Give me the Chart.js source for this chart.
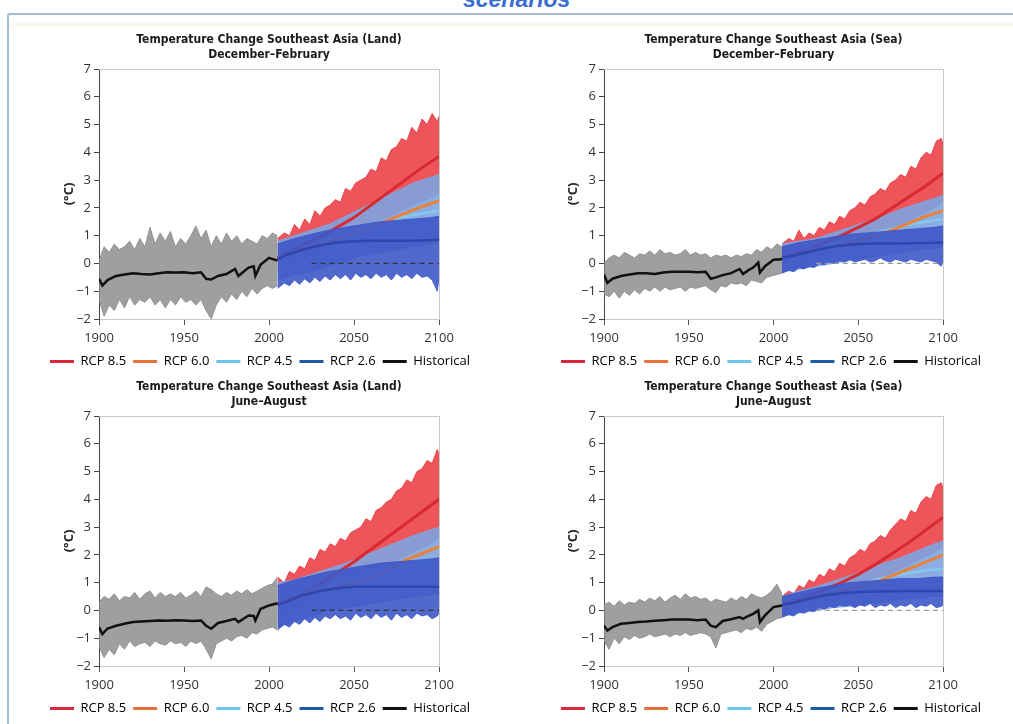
<!DOCTYPE html>
<html>
<head>
<meta charset="utf-8">
<script src="https://cdn.jsdelivr.net/npm/chart.js@4.4.1/dist/chart.umd.min.js"></script>
<style>
  html, body { margin: 0; padding: 0; background: #fff; width: 1013px; height: 724px; overflow: hidden; position: relative; }
  .frame { position: absolute; left: 7px; top: 13px; width: 1100px; height: 800px; border: 2px solid #a3bdd6; border-radius: 3px; box-sizing: border-box; }
  .stripe { position: absolute; left: 9px; right: 0; top: 23px; height: 4px; background: #fdf8ec; }
  .heading { position: absolute; left: 463px; top: -12px; font: italic bold 23px 'Liberation Sans', Arial, sans-serif; color: #3a6ed0; line-height: 22px; }
  .panel { position: absolute; width: 470px; height: 349px; }
</style>
</head>
<body>
<div class="heading">scenarios</div>
<div class="frame"></div>
<div class="stripe"></div>
<div class="panel" style="left:25px;top:29px"><canvas id="tl" width="470" height="349"></canvas></div>
<div class="panel" style="left:536px;top:29px"><canvas id="tr" width="470" height="349"></canvas></div>
<div class="panel" style="left:25px;top:376px"><canvas id="bl" width="470" height="349"></canvas></div>
<div class="panel" style="left:536px;top:376px"><canvas id="br" width="470" height="349"></canvas></div>

<script>
// =========================
// Shared x values
// =========================
const histYears = [1900,1903,1906,1909,1912,1915,1918,1921,1924,1927,
  1930,1933,1936,1939,1942,1945,1948,1951,1954,1957,
  1960,1963,1966,1969,1972,1975,1978,1981,1984,1987,
  1990,1993,1996,1999,2002,2005];
const histMeanYears = [1900,1902,1905,1910,1915,1920,1925,1930,1935,1940,
  1945,1950,1955,1960,1963,1966,1970,1975,1980,1982,
  1985,1988,1991,1992,1995,2000,2005];
const futYears = [2005,2009,2012,2015,2018,2021,2024,2027,2030,2033,
  2036,2039,2042,2045,2048,2051,2054,2057,2060,2063,
  2066,2069,2072,2075,2078,2081,2084,2087,2090,2093,
  2096,2099,2100];
const bandYears = [2005,2015,2025,2035,2045,2055,2065,2075,2085,2095,2100];
const meanYears = [2005,2010,2020,2030,2040,2050,2060,2070,2080,2090,2100];
const zeroYears = [2025, 2100];
const zeroValues = [0, 0];

const xTicks = [1900, 1950, 2000, 2050, 2100];
const legendNames = ["RCP 8.5", "RCP 6.0", "RCP 4.5", "RCP 2.6", "Historical"];
const legendColors = ["#d7263d", "#e8733a", "#6ec6ea", "#1f5aa6", "#111111"];

// =========================
// Land, December-February
// =========================
const tlHistHi = [0.1,0.6,0.4,0.7,0.5,0.6,0.8,0.5,0.9,0.6, 1.3,0.7,1.1,0.8,1.15,0.6,0.9,0.7,1.0,1.35, 0.9,1.2,0.6,1.0,0.7,1.1,0.8,1.0,0.7,0.9, 0.8,0.7,1.0,0.9,1.1,1.0];
const tlHistLo = [-1.3,-1.9,-1.5,-1.7,-1.3,-1.6,-1.2,-1.5,-1.3,-1.4, -1.2,-1.5,-1.3,-1.6,-1.3,-1.5,-1.2,-1.4,-1.3,-1.5, -1.3,-1.7,-2.0,-1.5,-1.2,-1.4,-1.1,-1.3,-1.0,-1.2, -0.9,-1.1,-0.9,-0.8,-0.9,-0.8];
const tlHistMean = [-0.55,-0.8,-0.6,-0.45,-0.4,-0.35,-0.38,-0.4,-0.35,-0.32, -0.33,-0.32,-0.35,-0.32,-0.55,-0.58,-0.45,-0.38,-0.2,-0.45, -0.3,-0.15,-0.1,-0.45,-0.05,0.2,0.1];
const tlR85Hi = [0.9,1.1,1.0,1.4,1.2,1.6,1.4,1.9,1.7,2.0, 2.1,2.3,2.2,2.7,2.6,2.9,3.0,3.1,3.4,3.3, 3.8,3.7,4.1,4.2,4.5,4.4,4.9,4.7,5.2,5.0, 5.4,5.1,5.3];
const tlR85Lo = [-0.3,0.0,0.3,0.6,0.9,1.2,1.5,1.8,2.1,2.35,2.5];
const tlLbHi = [0.8,1.0,1.2,1.4,1.7,2.0,2.3,2.6,2.9,3.1,3.2];
const tlLbLo = [-0.6,-0.4,-0.3,-0.1,0.1,0.3,0.4,0.5,0.6,0.7,0.8];
const tlBHi = [0.7,0.9,1.05,1.2,1.3,1.4,1.5,1.55,1.6,1.65,1.7];
const tlBLo = [-0.9,-0.7,-0.8,-0.6,-0.75,-0.55,-0.7,-0.5,-0.65,-0.45, -0.6,-0.4,-0.55,-0.4,-0.6,-0.35,-0.5,-0.4,-0.55,-0.35, -0.5,-0.4,-0.6,-0.35,-0.5,-0.4,-0.55,-0.35,-0.5,-0.45, -0.6,-1.0,-0.5];
const tlR85 = [0.2,0.35,0.65,0.95,1.3,1.65,2.1,2.55,3.0,3.45,3.85];
const tlR60 = [0.15,0.3,0.5,0.7,0.9,1.1,1.3,1.55,1.8,2.05,2.25];
const tlR45 = [0.15,0.3,0.55,0.8,1.0,1.2,1.4,1.55,1.7,1.8,1.9];
const tlR26 = [0.15,0.3,0.5,0.65,0.75,0.8,0.82,0.82,0.82,0.83,0.85];

// =========================
// Sea, December-February
// =========================
const trHistHi = [0.0,0.2,0.3,0.2,0.4,0.3,0.2,0.35,0.3,0.45, 0.3,0.5,0.35,0.4,0.3,0.35,0.5,0.3,0.4,0.3, 0.35,0.2,0.3,0.25,0.3,0.2,0.3,0.25,0.35,0.3, 0.5,0.4,0.6,0.5,0.7,0.6];
const trHistLo = [-1.1,-1.2,-1.0,-1.25,-1.0,-1.15,-0.95,-1.1,-0.9,-1.0, -0.85,-1.0,-0.85,-0.95,-0.9,-0.85,-1.0,-0.85,-0.9,-0.85, -0.8,-0.95,-1.05,-0.8,-0.85,-0.7,-0.75,-0.7,-0.8,-0.6, -0.65,-0.7,-0.5,-0.45,-0.4,-0.35];
const trHistMean = [-0.4,-0.7,-0.55,-0.45,-0.4,-0.35,-0.35,-0.38,-0.33,-0.3, -0.3,-0.3,-0.32,-0.3,-0.55,-0.5,-0.42,-0.35,-0.2,-0.38, -0.25,-0.15,0.03,-0.33,-0.1,0.13,0.15];
const trR85Hi = [0.7,0.9,0.8,1.2,0.9,1.1,1.0,1.3,1.2,1.5, 1.4,1.7,1.6,1.9,2.0,2.2,2.1,2.4,2.5,2.7, 2.6,2.9,3.0,3.2,3.1,3.5,3.4,3.8,4.0,3.9, 4.4,4.5,4.3];
const trR85Lo = [-0.3,-0.1,0.1,0.35,0.6,0.85,1.1,1.4,1.7,2.0,2.2];
const trLbHi = [0.7,0.8,0.9,1.1,1.3,1.5,1.7,1.95,2.15,2.35,2.45];
const trLbLo = [-0.3,-0.2,-0.1,0.0,0.1,0.2,0.3,0.4,0.5,0.55,0.6];
const trBHi = [0.6,0.75,0.85,0.95,1.05,1.1,1.15,1.2,1.25,1.3,1.35];
const trBLo = [-0.35,-0.25,-0.3,-0.15,-0.2,-0.1,-0.15,0.0,-0.05,0.05, 0.0,0.1,0.05,0.15,0.05,0.1,0.15,0.05,0.1,0.2, 0.1,0.05,0.15,0.1,0.05,0.15,0.1,0.05,0.15,0.1, 0.05,-0.1,0.1];
const trR85 = [0.2,0.3,0.5,0.75,1.0,1.3,1.6,2.0,2.4,2.8,3.25];
const trR60 = [0.2,0.25,0.4,0.55,0.7,0.85,1.0,1.2,1.45,1.7,1.9];
const trR45 = [0.2,0.25,0.4,0.6,0.8,0.95,1.1,1.25,1.4,1.5,1.6];
const trR26 = [0.2,0.25,0.4,0.55,0.65,0.7,0.72,0.72,0.73,0.74,0.75];

// =========================
// Land, June-August
// =========================
const blHistHi = [0.3,0.5,0.4,0.6,0.35,0.5,0.45,0.65,0.4,0.6, 0.7,0.45,0.65,0.5,0.6,0.5,0.65,0.45,0.55,0.7, 0.5,0.85,0.75,0.6,0.5,0.65,0.55,0.7,0.6,0.75, 0.6,0.7,0.8,0.9,0.95,1.2];
const blHistLo = [-1.3,-1.7,-1.4,-1.6,-1.2,-1.4,-1.1,-1.3,-1.2,-1.15, -1.3,-1.1,-1.2,-1.25,-1.1,-1.2,-1.15,-1.3,-1.1,-1.2, -1.1,-1.4,-1.75,-1.2,-1.1,-1.0,-1.1,-0.95,-0.9,-1.0, -0.8,-0.85,-0.7,-0.65,-0.6,-0.7];
const blHistMean = [-0.6,-0.85,-0.65,-0.55,-0.48,-0.42,-0.4,-0.38,-0.36,-0.37, -0.35,-0.36,-0.38,-0.36,-0.55,-0.66,-0.45,-0.38,-0.3,-0.42, -0.3,-0.18,-0.2,-0.36,0.05,0.18,0.26];
const blR85Hi = [1.2,1.0,1.4,1.3,1.6,1.5,1.9,1.8,2.2,2.1, 2.4,2.3,2.6,2.5,2.8,2.9,3.0,3.3,3.2,3.6, 3.7,3.9,4.0,4.3,4.4,4.7,4.6,5.0,5.1,5.4, 5.3,5.8,5.6];
const blR85Lo = [-0.4,0.0,0.3,0.6,0.9,1.2,1.5,1.8,2.1,2.4,2.6];
const blLbHi = [1.0,1.1,1.3,1.5,1.7,1.95,2.2,2.45,2.7,2.9,3.0];
const blLbLo = [-0.6,-0.4,-0.2,0.0,0.1,0.2,0.3,0.4,0.5,0.55,0.6];
const blBHi = [0.9,1.1,1.25,1.4,1.5,1.6,1.7,1.75,1.8,1.85,1.9];
const blBLo = [-0.7,-0.5,-0.6,-0.4,-0.5,-0.3,-0.45,-0.25,-0.4,-0.2, -0.3,-0.15,-0.3,-0.2,-0.35,-0.1,-0.25,-0.15,-0.3,-0.1, -0.25,-0.15,-0.35,-0.1,-0.25,-0.15,-0.3,-0.1,-0.2,-0.15, -0.3,-0.2,-0.1];
const blR85 = [0.25,0.35,0.6,0.95,1.35,1.75,2.2,2.65,3.1,3.55,4.0];
const blR60 = [0.2,0.3,0.5,0.7,0.85,1.0,1.15,1.45,1.8,2.05,2.3];
const blR45 = [0.2,0.3,0.55,0.75,0.95,1.15,1.3,1.45,1.6,1.7,1.75];
const blR26 = [0.2,0.3,0.55,0.7,0.8,0.85,0.85,0.85,0.85,0.85,0.85];

// =========================
// Sea, June-August
// =========================
const brHistHi = [0.2,0.3,0.15,0.35,0.2,0.3,0.25,0.4,0.3,0.45, 0.35,0.5,0.3,0.45,0.55,0.4,0.6,0.45,0.5,0.4, 0.45,0.3,0.4,0.35,0.3,0.45,0.35,0.5,0.4,0.6, 0.5,0.45,0.55,0.7,0.95,0.6];
const brHistLo = [-1.1,-1.4,-1.0,-1.2,-0.95,-1.05,-0.9,-1.0,-0.95,-0.85, -0.95,-0.9,-0.85,-0.95,-0.85,-0.9,-0.8,-0.9,-0.85,-0.8, -0.85,-0.95,-1.35,-0.85,-0.8,-0.75,-0.7,-0.8,-0.65,-0.7, -0.6,-0.75,-0.5,-0.4,-0.3,-0.25];
const brHistMean = [-0.55,-0.72,-0.6,-0.48,-0.45,-0.42,-0.4,-0.37,-0.35,-0.33, -0.33,-0.33,-0.35,-0.33,-0.55,-0.6,-0.38,-0.32,-0.24,-0.3, -0.2,-0.12,0.0,-0.42,-0.18,0.12,0.18];
const brR85Hi = [0.5,0.7,0.6,0.9,0.8,1.1,1.0,1.3,1.2,1.5, 1.4,1.7,1.6,1.9,2.0,2.2,2.1,2.4,2.5,2.7, 2.6,2.9,3.1,3.3,3.2,3.6,3.5,3.9,4.1,4.0, 4.5,4.6,4.4];
const brR85Lo = [-0.2,0.0,0.2,0.45,0.7,0.95,1.2,1.5,1.8,2.1,2.3];
const brLbHi = [0.5,0.7,0.85,1.05,1.25,1.45,1.7,1.9,2.15,2.4,2.5];
const brLbLo = [-0.2,-0.1,0.0,0.1,0.15,0.25,0.3,0.4,0.45,0.5,0.5];
const brBHi = [0.5,0.65,0.8,0.9,1.0,1.05,1.1,1.15,1.15,1.2,1.2];
const brBLo = [-0.25,-0.15,-0.2,-0.05,-0.1,0.0,-0.05,0.1,0.05,0.15, 0.1,0.2,0.15,0.2,0.1,0.2,0.15,0.25,0.1,0.2, 0.15,0.25,0.1,0.2,0.15,0.25,0.1,0.2,0.15,0.25, 0.1,0.15,0.2];
const brR85 = [0.2,0.3,0.5,0.75,1.0,1.3,1.65,2.05,2.45,2.9,3.35];
const brR60 = [0.2,0.25,0.4,0.55,0.7,0.85,1.0,1.25,1.5,1.75,2.0];
const brR45 = [0.2,0.25,0.4,0.6,0.8,0.95,1.1,1.25,1.35,1.45,1.5];
const brR26 = [0.2,0.25,0.4,0.55,0.62,0.66,0.68,0.69,0.7,0.7,0.7];

// =========================
// Panels
// =========================
const TITLE_FONT = "'Liberation Sans Narrow', 'DejaVu Sans Condensed', sans-serif";
const TEXT_FONT = "'Open Sans', sans-serif";

const panels = [
  { id: "tl", yWidth: 74, rightWidth: 56, titlePad: 36, zeroColor: "#333",
    title: ["Temperature Change Southeast Asia (Land)", "December\u2013February"],
    histHi: tlHistHi, histLo: tlHistLo, histMean: tlHistMean, r85Hi: tlR85Hi, r85Lo: tlR85Lo,
    lbHi: tlLbHi, lbLo: tlLbLo, bHi: tlBHi, bLo: tlBLo, r85: tlR85, r60: tlR60, r45: tlR45, r26: tlR26 },
  { id: "tr", yWidth: 68, rightWidth: 63, titlePad: 29, zeroColor: "#9a9a9a",
    title: ["Temperature Change Southeast Asia (Sea)", "December\u2013February"],
    histHi: trHistHi, histLo: trHistLo, histMean: trHistMean, r85Hi: trR85Hi, r85Lo: trR85Lo,
    lbHi: trLbHi, lbLo: trLbLo, bHi: trBHi, bLo: trBLo, r85: trR85, r60: trR60, r45: trR45, r26: trR26 },
  { id: "bl", yWidth: 74, rightWidth: 56, titlePad: 36, zeroColor: "#333",
    title: ["Temperature Change Southeast Asia (Land)", "June\u2013August"],
    histHi: blHistHi, histLo: blHistLo, histMean: blHistMean, r85Hi: blR85Hi, r85Lo: blR85Lo,
    lbHi: blLbHi, lbLo: blLbLo, bHi: blBHi, bLo: blBLo, r85: blR85, r60: blR60, r45: blR45, r26: blR26 },
  { id: "br", yWidth: 68, rightWidth: 63, titlePad: 29, zeroColor: "#9a9a9a",
    title: ["Temperature Change Southeast Asia (Sea)", "June\u2013August"],
    histHi: brHistHi, histLo: brHistLo, histMean: brHistMean, r85Hi: brR85Hi, r85Lo: brR85Lo,
    lbHi: brLbHi, lbLo: brLbLo, bHi: brBHi, bLo: brBLo, r85: brR85, r60: brR60, r45: brR45, r26: brR26 },
];

function pts(xs, ys) {
  return xs.map((x, i) => ({ x: x, y: ys[i] }));
}

function line(data, color, width, extra) {
  return Object.assign({ data: data, borderColor: color, borderWidth: width, pointRadius: 0, fill: false, tension: 0 }, extra || {});
}

// two datasets: upper edge filled down to the lower edge
function band(xsHi, hi, xsLo, lo, color) {
  return [
    line(pts(xsHi, hi), color, 1, { fill: "+1", backgroundColor: color }),
    line(pts(xsLo, lo), color, 1),
  ];
}

const legendItems = legendNames.map((name, i) => ({
  text: name,
  fillStyle: legendColors[i],
  strokeStyle: legendColors[i],
  lineWidth: 0,
  hidden: false,
}));

function frameAxis(pos, size) {
  return {
    type: "linear",
    position: pos,
    ticks: { display: false },
    grid: { drawOnChartArea: false, drawTicks: false },
    border: { color: "#c8c8c8" },
    afterFit: (s) => { if (pos === "top") s.height = size; else s.width = size; },
  };
}

function buildChart(p) {
  // first dataset is drawn on top
  const datasets = [
    line(pts(histMeanYears, p.histMean), "#111", 2.5),
    line(pts(zeroYears, zeroValues), p.zeroColor, 1.3, { borderDash: [5, 4] }),
    line(pts(meanYears, p.r26), "#2f46ad", 2.5),
    ...band(bandYears, p.bHi, futYears, p.bLo, "rgba(62,88,200,0.9)"),
    line(pts(meanYears, p.r85), "#d62a30", 3),
    line(pts(meanYears, p.r60), "#e8823a", 3),
    line(pts(meanYears, p.r45), "#86c8ec", 2.5),
    ...band(bandYears, p.lbHi, bandYears, p.lbLo, "rgba(125,165,225,0.9)"),
    ...band(futYears, p.r85Hi, bandYears, p.r85Lo, "rgba(234,55,62,0.85)"),
    ...band(histYears, p.histHi, histYears, p.histLo, "rgba(135,135,135,0.8)"),
  ];

  new Chart(document.getElementById(p.id).getContext("2d"), {
    type: "line",
    data: { datasets: datasets },
    options: {
      responsive: false,
      animation: false,
      devicePixelRatio: 1,
      layout: { padding: 0 },
      plugins: {
        title: {
          display: true,
          fullSize: false,
          text: p.title,
          color: "#1a1a1a",
          font: { family: TITLE_FONT, size: 12, weight: "bold", lineHeight: 1.25 },
          padding: { top: 3, bottom: 7 },
        },
        legend: {
          position: "bottom",
          onClick: null,
          labels: {
            generateLabels: () => legendItems,
            boxWidth: 24,
            boxHeight: 3,
            padding: 7,
            color: "#333",
            font: { family: TEXT_FONT, size: 13 },
          },
        },
        tooltip: { enabled: false },
      },
      scales: {
        x: {
          type: "linear",
          min: 1900,
          max: 2100,
          afterBuildTicks: (s) => { s.ticks = xTicks.map((v) => ({ value: v })); },
          afterFit: (s) => { s.height = 29; },
          ticks: { color: "#333", padding: 5, font: { family: TEXT_FONT, size: 13 }, callback: (v) => String(v) },
          grid: { drawOnChartArea: false, tickLength: 6, tickColor: "#555" },
          border: { color: "#c8c8c8" },
        },
        y: {
          min: -2,
          max: 7,
          afterFit: (s) => { s.width = p.yWidth; },
          ticks: {
            stepSize: 1,
            color: "#333",
            padding: 3,
            font: { family: TEXT_FONT, size: 13 },
            callback: (v) => (v < 0 ? "\u2212" + Math.abs(v) : String(v)),
          },
          grid: { drawOnChartArea: false, tickLength: 5, tickColor: "#444" },
          border: { color: "#444" },
          title: {
            display: true,
            text: "(\u00b0C)",
            color: "#222",
            font: { family: TEXT_FONT, size: 13, weight: "bold" },
            padding: { top: p.titlePad, bottom: 0 },
          },
        },
        x2: frameAxis("top", 0),
        y2: frameAxis("right", p.rightWidth),
      },
    },
  });
}

panels.forEach(buildChart);
</script>
</body>
</html>
